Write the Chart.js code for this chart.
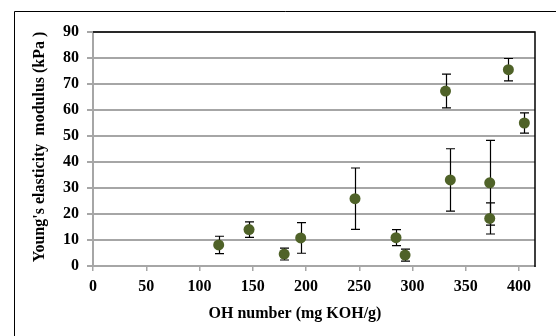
<!DOCTYPE html>
<html>
<head>
<meta charset="utf-8">
<script src="https://cdn.jsdelivr.net/npm/chart.js@4/dist/chart.umd.min.js"></script>
<style>
    html, body { margin: 0; padding: 0; background: #fff; }
    #wrap { width: 556px; height: 336px; }
</style>
</head>
<body>
<div id="wrap"><canvas id="modulus_chart" width="556" height="336"></canvas></div>
<script>
const ohNumber = [118, 146.5, 179.5, 195, 246, 284.5, 293, 331, 335.5, 372.5, 372.5, 390, 405];
const modulus = [8.1, 14, 4.6, 10.8, 25.9, 10.9, 4.2, 67.3, 33.1, 32, 18.3, 75.5, 55];
const modulusErr = [3.35, 3, 2.3, 5.9, 11.8, 3.1, 2.3, 6.5, 12, 16.3, 6, 4.3, 3.9];

const xTicks = [0, 50, 100, 150, 200, 250, 300, 350, 400];
const yTicks = [0, 10, 20, 30, 40, 50, 60, 70, 80, 90];

const xTitle = 'OH number (mg KOH/g)';
const yTitle = 'Young\'s elasticity  modulus (kPa )';

const serif = '"Liberation Serif", "Times New Roman", serif';
const gridColor = '#a6a6a6';

let points = [];
ohNumber.forEach((x, i) => {
    points.push({x: x, y: modulus[i], err: modulusErr[i]});
});

// vertical error bars with caps, drawn under the markers
const errorBars = {
    id: 'errorBars',
    beforeDatasetsDraw(chart) {
        const ctx = chart.ctx;
        const xs = chart.scales.x;
        const ys = chart.scales.y;
        ctx.save();
        ctx.strokeStyle = '#000';
        ctx.lineWidth = 1.2;
        points.forEach((p) => {
            const px = Math.round(xs.getPixelForValue(p.x)) + 0.5;
            const top = ys.getPixelForValue(p.y + p.err);
            const bottom = ys.getPixelForValue(p.y - p.err);
            ctx.beginPath();
            ctx.moveTo(px, top);
            ctx.lineTo(px, bottom);
            ctx.moveTo(px - 4.5, top);
            ctx.lineTo(px + 4.5, top);
            ctx.moveTo(px - 4.5, bottom);
            ctx.lineTo(px + 4.5, bottom);
            ctx.stroke();
        });
        ctx.restore();
    },
};

// outer frame, plot border (top/right) and the axis titles
const frame = {
    id: 'frame',
    beforeDraw(chart) {
        const ctx = chart.ctx;
        ctx.save();
        ctx.strokeStyle = '#000';
        ctx.lineWidth = 1;
        ctx.beginPath();
        ctx.moveTo(14.5, 340);
        ctx.lineTo(14.5, 11.5);
        ctx.lineTo(560, 11.5);
        ctx.stroke();
        ctx.restore();
    },
    afterDraw(chart) {
        const ctx = chart.ctx;
        const area = chart.chartArea;
        ctx.save();
        ctx.strokeStyle = '#000';
        ctx.lineWidth = 1.5;
        ctx.beginPath();
        ctx.moveTo(area.left, area.top);
        ctx.lineTo(area.right, area.top);
        ctx.lineTo(area.right, area.bottom + 1);
        ctx.stroke();

        ctx.fillStyle = '#000';
        ctx.font = 'bold 16px ' + serif;
        ctx.textAlign = 'center';
        ctx.textBaseline = 'alphabetic';
        ctx.fillText(xTitle, 295, 318);

        ctx.translate(40, 147);
        ctx.rotate(-Math.PI / 2);
        ctx.textBaseline = 'middle';
        ctx.fillText(yTitle, 0, 0);
        ctx.restore();
    },
};

const modulusChartCanvas = document.getElementById('modulus_chart');
const modulusChartConfig = {
    type: 'scatter',
    data: {
        datasets: [{
            data: points,
            backgroundColor: '#4f6228',
            borderColor: '#4f6228',
            pointRadius: 5.5,
            pointBorderWidth: 0,
        }],
    },
    options: {
        responsive: false,
        animation: {
            duration: 0,
        },
        layout: {
            padding: {top: 32, right: 21, left: 0, bottom: 0},
        },
        plugins: {
            legend: {
                display: false,
            },
            tooltip: {
                enabled: false,
            },
        },
        scales: {
            x: {
                type: 'linear',
                min: 0,
                max: 415,
                afterFit(scale) {
                    scale.height = 70;
                },
                afterBuildTicks(scale) {
                    scale.ticks = xTicks.map((v) => ({value: v}));
                },
                ticks: {
                    padding: 6,
                    color: '#000',
                    maxRotation: 0,
                    autoSkip: false,
                    font: {family: serif, size: 16, weight: 'bold'},
                },
                grid: {
                    drawOnChartArea: false,
                    drawTicks: true,
                    tickLength: 5,
                    color: gridColor,
                    lineWidth: 1.5,
                },
                border: {
                    color: gridColor,
                    width: 2,
                },
            },
            y: {
                min: 0,
                max: 90,
                afterFit(scale) {
                    scale.width = 93;
                },
                afterBuildTicks(scale) {
                    scale.ticks = yTicks.map((v) => ({value: v}));
                },
                ticks: {
                    padding: 8,
                    color: '#000',
                    autoSkip: false,
                    font: {family: serif, size: 16, weight: 'bold'},
                },
                grid: {
                    tickLength: 6,
                    color: gridColor,
                    lineWidth: 2,
                },
                border: {
                    color: gridColor,
                    width: 2,
                },
            },
        },
    },
    plugins: [errorBars, frame],
};
const modulusChart = new Chart(modulusChartCanvas, modulusChartConfig);
</script>
</body>
</html>
